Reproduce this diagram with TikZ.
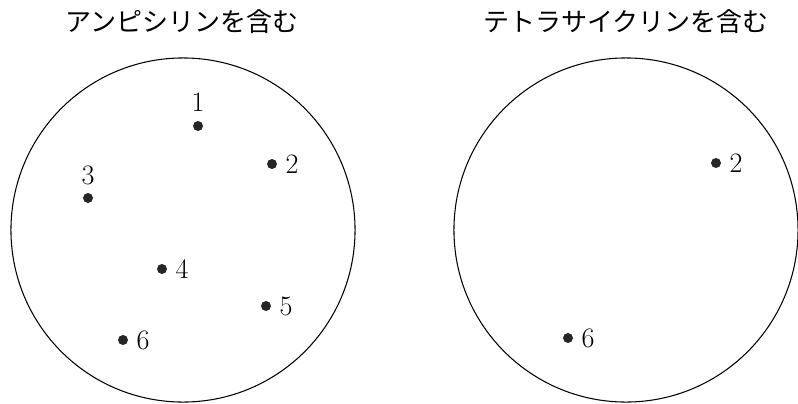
\documentclass[tikz,border=0pt]{standalone}
\usepackage{fontspec}
\newfontfamily\jpfont{Noto Sans CJK JP}
\usetikzlibrary{positioning}

\begin{document}
\begin{tikzpicture}[x=0.025cm, y=-0.025cm, node distance=0.2cm]
    \tikzset{
        plate/.style={circle, draw, line width=0.75pt, minimum size=8.6cm, inner sep=0pt},
        colony/.style={circle, fill=black!85, minimum size=0.25cm, inner sep=0pt},
        num/.style={inner sep=0pt, font=\fontsize{20}{22}\selectfont},
        caption/.style={font=\jpfont\fontsize{18.5}{22}\selectfont}
    }
    \useasboundingbox (0,0) rectangle (798,403);
    % plates
    \node[plate] (ampi) at (183,230) {};
    \node[plate] (tetra) at (626,230) {};
    \node[caption] (ampi_title) at (182,22) {アンピシリンを含む};
    \node[caption] (tetra_title) at (626,22) {テトラサイクリンを含む};
    % colonies on ampicillin plate
    \node[colony] (a1) at (198,126) {};
    \node[colony] (a2) at (272,164) {};
    \node[colony] (a3) at (88,198) {};
    \node[colony] (a4) at (162,269) {};
    \node[colony] (a5) at (266,306) {};
    \node[colony] (a6) at (123,340) {};
    \node[num, above=0.22cm of a1] (n1) {1};
    \node[num, right=of a2] (n2) {2};
    \node[num, above=0.18cm of a3] (n3) {3};
    \node[num, right=of a4] (n4) {4};
    \node[num, right=of a5] (n5) {5};
    \node[num, right=of a6] (n6) {6};
    % colonies on tetracycline plate
    \node[colony] (t2) at (716,163) {};
    \node[colony] (t6) at (568,338) {};
    \node[num, right=of t2] (m2) {2};
    \node[num, right=of t6] (m6) {6};
\end{tikzpicture}
\end{document}
